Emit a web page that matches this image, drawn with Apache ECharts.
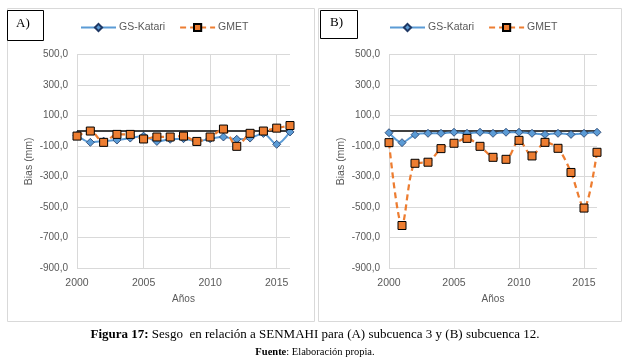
<!DOCTYPE html>
<html><head><meta charset="utf-8">
<script src="https://cdn.jsdelivr.net/npm/echarts@6/dist/echarts.min.js"></script>
<style>html,body{margin:0;padding:0;background:#fff}#c{width:630px;height:361px}</style>
</head><body><div id="c"></div>
<script>
const years = ['2000','2001','2002','2003','2004','2005','2006','2007','2008','2009','2010','2011','2012','2013','2014','2015','2016'];
const katariA = [-30,-76,-68,-61,-48,-35,-70,-56,-52,-70,-52,-41,-56,-48,-18,-89,-8];
const gmetA = [-35,-2,-76,-24,-24,-54,-41,-41,-35,-70,-41,11,-102,-17,-2,17,34];
const katariB = [-13,-78,-26,-17,-17,-10,-17,-10,-17,-10,-10,-17,-24,-17,-24,-17,-10];
const gmetB = [-78,-620,-213,-206,-117,-82,-50,-102,-174,-187,-63,-165,-76,-115,-273,-506,-141];
const yTicks = {min:-900, max:500, interval:200};
const seriesNames = ['GS-Katari','GMET'];

const gray = '#595959';
const font = 'Liberation Sans';
const serif = 'Liberation Serif';
const chart = echarts.init(document.getElementById('c'), null, {renderer:'canvas'});

function xAxisFor(i){
  return {type:'category', gridIndex:i, data:years, boundaryGap:false,
    axisLine:{show:false, onZero:false}, axisTick:{show:false},
    axisLabel:{interval:4, color:gray, fontSize:10.5, fontFamily:font, margin:9},
    splitLine:{show:true, interval:4, lineStyle:{color:'#d9d9d9', width:1}},
    name:'Años', nameLocation:'middle', nameGap:26,
    nameTextStyle:{color:gray, fontSize:10, fontFamily:font}};
}
function yAxisFor(i){
  return {type:'value', gridIndex:i, min:yTicks.min, max:yTicks.max, interval:yTicks.interval,
    axisLine:{show:false}, axisTick:{show:false},
    axisLabel:{color:gray, fontSize:10, fontFamily:font, margin:9,
      formatter:v=>v.toFixed(1).replace('.',',')},
    splitLine:{lineStyle:{color:'#d9d9d9', width:1}},
    name:'Bias (mm)', nameLocation:'middle', nameGap:42,
    nameTextStyle:{color:gray, fontSize:10.5, fontFamily:font}};
}
function katari(i, data){
  return {name:seriesNames[0], type:'line', xAxisIndex:i, yAxisIndex:i, data:data,
    smooth:0.3, symbol:'diamond', symbolSize:8, z:3,
    lineStyle:{color:'#5B9BD5', width:2},
    itemStyle:{color:'#5B9BD5', borderColor:'#1F3864', borderWidth:0.8},
    markLine:{silent:true, symbol:'none', label:{show:false}, z:1,
      lineStyle:{color:'#000', type:'solid', width:1.5},
      data:[{yAxis:0}]}};
}
function gmet(i, data){
  return {name:seriesNames[1], type:'line', xAxisIndex:i, yAxisIndex:i, data:data,
    smooth:0.3, symbol:'rect', symbolSize:8, z:4,
    lineStyle:{color:'#ED7D31', width:2.25, type:[6,4]},
    itemStyle:{color:'#ED7D31', borderColor:'#000', borderWidth:1}};
}
function legendFor(left){
  return {left:left, top:17, itemWidth:35, itemHeight:9, itemGap:14,
    selectedMode:false, data:seriesNames,
    textStyle:{color:gray, fontSize:10.5, fontFamily:font, padding:[0,0,0,-2]}};
}

chart.setOption({
  animation:false,
  grid:[
    {left:77, right:340, top:54.3, bottom:92.7},
    {left:389, right:33, top:54.3, bottom:92.7}
  ],
  legend:[legendFor(75), legendFor(384)],
  xAxis:[xAxisFor(0), xAxisFor(1)],
  yAxis:[yAxisFor(0), yAxisFor(1)],
  series:[katari(0,katariA), gmet(0,gmetA), katari(1,katariB), gmet(1,gmetB)],
  graphic:[
    {type:'rect', shape:{x:7.5, y:8.5, width:307, height:313}, style:{fill:null, stroke:'#d9d9d9', lineWidth:1}, silent:true},
    {type:'rect', shape:{x:318.5, y:8.5, width:303, height:313}, style:{fill:null, stroke:'#d9d9d9', lineWidth:1}, silent:true},
    {type:'rect', shape:{x:7.5, y:10.5, width:36, height:30}, style:{fill:'#fff', stroke:'#000', lineWidth:1}, silent:true},
    {type:'rect', shape:{x:320.5, y:10.5, width:37, height:28}, style:{fill:'#fff', stroke:'#000', lineWidth:1}, silent:true},
    {type:'text', left:16, top:17, style:{text:'A)', font:'13px "Liberation Serif"', fill:'#000'}},
    {type:'text', left:330, top:16, style:{text:'B)', font:'13px "Liberation Serif"', fill:'#000'}},
    {type:'text', left:'center', top:328, style:{
      text:'{b|Figura 17:}{n| Sesgo  en relación a SENMAHI para (A) subcuenca 3 y (B) subcuenca 12.}',
      rich:{b:{fontWeight:'bold', fontFamily:serif, fontSize:13, fill:'#000'},
            n:{fontFamily:serif, fontSize:13, fill:'#000'}}}},
    {type:'text', left:'center', top:347, style:{
      text:'{b|Fuente}{n|: Elaboración propia.}',
      rich:{b:{fontWeight:'bold', fontFamily:serif, fontSize:10.5, fill:'#000'},
            n:{fontFamily:serif, fontSize:10.5, fill:'#000'}}}}
  ]
});
</script></body></html>
